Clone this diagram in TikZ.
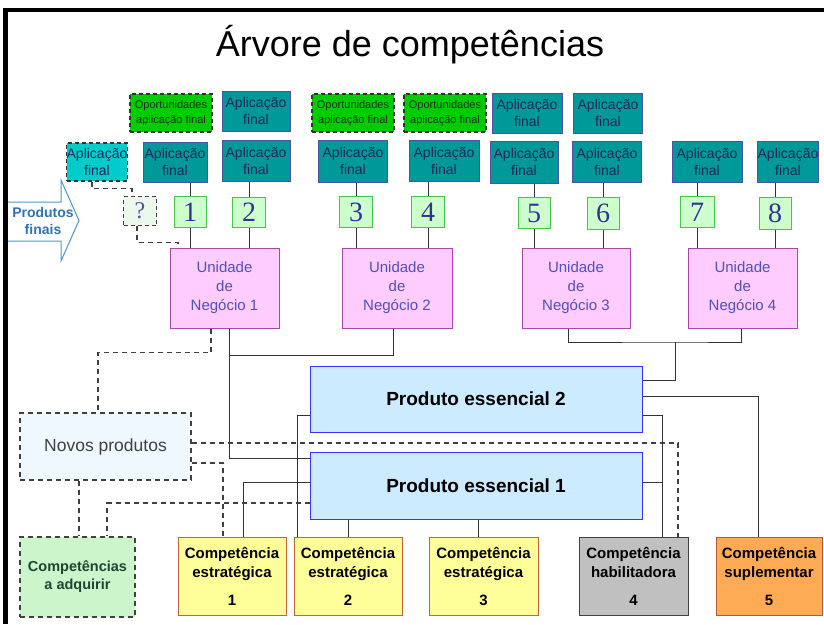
\documentclass[tikz,border=0pt]{standalone}
\usepackage{fontspec}
\setmainfont{Liberation Sans}
\newfontfamily\numfont{Liberation Serif}
\usetikzlibrary{positioning,calc}
\definecolor{afteal}{RGB}{0,153,153}
\definecolor{afedge}{RGB}{80,80,170}
\definecolor{aftext}{RGB}{30,40,90}
\definecolor{afcyan}{RGB}{0,204,204}
\definecolor{opgreen}{RGB}{0,204,0}
\definecolor{optext}{RGB}{20,50,20}
\definecolor{numfill}{RGB}{204,255,204}
\definecolor{numedge}{RGB}{70,200,70}
\definecolor{numtext}{RGB}{50,50,150}
\definecolor{qfill}{RGB}{236,248,236}
\definecolor{qtext}{RGB}{80,80,170}
\definecolor{unfill}{RGB}{255,204,255}
\definecolor{unedge}{RGB}{170,70,170}
\definecolor{untext}{RGB}{80,80,187}
\definecolor{pefill}{RGB}{204,235,255}
\definecolor{peedge}{RGB}{51,51,255}
\definecolor{cpyellow}{RGB}{255,255,153}
\definecolor{cpedge}{RGB}{200,100,50}
\definecolor{cpgray}{RGB}{192,192,192}
\definecolor{cporange}{RGB}{255,170,85}
\definecolor{novfill}{RGB}{239,247,255}
\definecolor{adqfill}{RGB}{204,245,204}
\definecolor{adqtext}{RGB}{30,70,50}
\definecolor{arrowedge}{RGB}{74,154,208}
\definecolor{arrowtext}{RGB}{46,116,181}
\begin{document}
\begin{tikzpicture}[x=1pt,y=-1pt,
  af/.style={draw=afedge,fill=afteal,line width=1pt,minimum width=68pt,minimum height=40pt,inner sep=0pt,align=center,text=aftext,font=\fontsize{14}{16.5}\selectfont},
  afdash/.style={af,draw=black!80,fill=afcyan,line width=1.2pt,dash pattern=on 4pt off 3pt},
  oport/.style={draw=black!80,fill=opgreen,line width=1.2pt,dash pattern=on 4pt off 3pt,minimum width=82pt,minimum height=38pt,inner sep=0pt,align=center,text=optext,font=\fontsize{11}{14.5}\selectfont},
  num/.style={draw=numedge,fill=numfill,line width=1pt,minimum width=32pt,minimum height=31pt,inner sep=0pt,text=numtext,font=\numfont\fontsize{28}{28}\selectfont},
  numq/.style={num,draw=black!75,fill=qfill,line width=1.2pt,dash pattern=on 4pt off 3pt,text=qtext},
  un/.style={draw=unedge,fill=unfill,line width=1pt,minimum width=109pt,minimum height=80pt,inner sep=0pt,align=center,text=untext,font=\fontsize{15}{19}\selectfont},
  pe/.style={draw=peedge,fill=pefill,line width=1pt,minimum width=332pt,minimum height=66pt,inner sep=0pt,font=\bfseries\fontsize{19}{22}\selectfont},
  comp/.style={draw=cpedge,fill=cpyellow,line width=1pt,minimum width=108pt,minimum height=78pt,inner sep=0pt,align=center,font=\bfseries\fontsize{15}{19}\selectfont},
  novos/.style={draw=black!75,fill=novfill,line width=1.2pt,dash pattern=on 5pt off 4pt,minimum width=171pt,minimum height=67pt,inner sep=0pt,text=black!75,font=\fontsize{17.5}{20}\selectfont},
  adq/.style={draw=black!75,fill=adqfill,line width=1.2pt,dash pattern=on 5pt off 4pt,minimum width=115pt,minimum height=80pt,inner sep=0pt,align=center,text=adqtext,font=\bfseries\fontsize{14.5}{18}\selectfont},
  ln/.style={draw=black!80,line width=0.9pt},
  dsh/.style={draw=black!75,line width=1.3pt,dash pattern=on 5pt off 4pt}]
  \useasboundingbox (0,0) rectangle (824,624);
  \fill[white] (0,0) rectangle (824,624);
  \node[font=\fontsize{36}{40}\selectfont,anchor=base] (title) at (410,56) {Árvore de competências};
  % arrow on the left
  \draw[draw=arrowedge,fill=white,line width=1pt] (8,202) -- (61,202) -- (61,180) -- (79,220.5) -- (61,261) -- (61,241) -- (8,241);
  \node[font=\bfseries\fontsize{14}{17.5}\selectfont,text=arrowtext,align=center] (pf) at (43,221) {Produtos\\finais};
  % top row
  \node[oport] (op1) at (171,113) {Oportunidades\\aplicação final};
  \node[af] (a1) at (256,111) {Aplicação\\final};
  \node[oport] (op2) at (353,113) {Oportunidades\\aplicação final};
  \node[oport] (op3) at (445,113) {Oportunidades\\aplicação final};
  \node[af,minimum width=70pt] (a2) at (527,113) {Aplicação\\final};
  \node[af,minimum width=69pt] (a3) at (608,113) {Aplicação\\final};
  % second row
  \node[afdash,minimum width=56pt,minimum height=38pt] (af0) at (97,162) {Aplicação\\final};
  \node[af,minimum width=64pt] (b1) at (175,162) {Aplicação\\final};
  \node[af,minimum height=41pt] (b2) at (256,161) {Aplicação\\final};
  \node[af,minimum width=69pt,minimum height=42pt] (b3) at (353,161) {Aplicação\\final};
  \node[af,minimum width=70pt,minimum height=41pt] (b4) at (444,161) {Aplicação\\final};
  \node[af,minimum height=42pt] (b5) at (524,162) {Aplicação\\final};
  \node[af,minimum width=69pt,minimum height=41pt] (b6) at (607,162) {Aplicação\\final};
  \node[af,minimum width=70pt,minimum height=41pt] (b7) at (707,162) {Aplicação\\final};
  \node[af,minimum width=58pt,minimum height=41pt] (b8) at (788,162) {Aplicação\\final};
  % numbers
  \node[numq,minimum width=33pt,minimum height=29pt,font=\numfont\fontsize{24}{24}\selectfont] (q) at (140,211) {?};
  \node[num] (n1) at (190,212) {1};
  \node[num,minimum width=33pt,minimum height=30pt] (n2) at (249,212) {2};
  \node[num,minimum width=33pt] (n3) at (356,212) {3};
  \node[num,minimum width=33pt] (n4) at (428,212) {4};
  \node[num] (n5) at (534,213) {5};
  \node[num,minimum height=32pt] (n6) at (603,213) {6};
  \node[num,minimum width=34pt] (n7) at (697,212) {7};
  \node[num,minimum height=32pt] (n8) at (775,213) {8};
  % business units
  \node[un] (un1) at (224.5,288) {Unidade\\de\\Negócio 1};
  \node[un,minimum width=110pt] (un2) at (397,288) {Unidade\\de\\Negócio 2};
  \node[un,minimum width=108pt] (un3) at (576,288) {Unidade\\de\\Negócio 3};
  \node[un] (un4) at (742.5,288) {Unidade\\de\\Negócio 4};
  % core products
  \node[pe] (pe2) at (476,399) {Produto essencial 2};
  \node[pe,minimum height=67pt] (pe1) at (476,485.5) {Produto essencial 1};
  \node[novos] (novos) at (105.5,446.5) {Novos produtos};
  % competences
  \node[adq] (adq) at (77.5,577) {Competências\\a adquirir};
  \node[comp] (c1) at (232,576) {Competência\\estratégica\\[9pt]1};
  \node[comp] (c2) at (348,576) {Competência\\estratégica\\[9pt]2};
  \node[comp,minimum width=109pt] (c3) at (483.5,576) {Competência\\estratégica\\[9pt]3};
  \node[comp,minimum width=109pt,fill=cpgray,draw=black!75] (c4) at (633.5,576) {Competência\\habilitadora\\[9pt]4};
  \node[comp,minimum width=106pt,fill=cporange,draw=cpedge!90!black] (c5) at (769,576) {Competência\\suplementar\\[9pt]5};
  % frame
  \fill[black] (3,8) rectangle (8,624);
  \fill[black] (3,8) rectangle (824,12);
  % applications to numbers to units
  \foreach \n/\b/\u in {n1/b1/un1,n2/b2/un1,n3/b3/un2,n4/b4/un2,n5/b5/un3,n6/b6/un3,n7/b7/un4,n8/b8/un4}{
    \draw[ln] (\n.north) -- (\n.north |- \b.south);
    \draw[ln] (\n.south) -- (\n.south |- \u.north);
  }
  % units to core products
  \draw[ln] ([xshift=4.5pt]un1.south) |- ([yshift=27.5pt]pe1.west);
  \draw[ln] ([xshift=-4pt]un2.south) |- ([xshift=4.5pt,yshift=-27pt]un1.south);
  \coordinate (j34) at (675,342);
  \draw[ln] ([xshift=-8pt]un3.south) |- (j34) -| ([xshift=-1.5pt]un4.south);
  \draw[ln] (j34) |- ([yshift=19pt]pe2.east);
  % core products to competences
  \draw[ln] ([yshift=3pt]pe2.east) -| ([xshift=-11pt]c5.north);
  \draw[ln] ([yshift=-16pt]pe2.east) -| ([xshift=28.5pt]c4.north);
  \draw[ln] ([yshift=3.5pt]pe1.east) -| ([xshift=28.5pt]c4.north);
  \draw[ln] ([yshift=-16pt]pe2.west) -| ([xshift=-51pt]c2.north);
  \draw[ln] (c2.north |- pe1.south) -- (c2.north);
  \draw[ln] ([xshift=2pt]pe1.south) -- ([xshift=2pt]pe1.south |- c3.north);
  \draw[ln] ([yshift=3.5pt]pe1.west) -| ([xshift=11pt]c1.north);
  % dashed links
  \draw[dsh] ([xshift=-5pt]af0.south) -- ++(0,7) -| ([xshift=-8pt]q.north);
  \draw[dsh] ([xshift=-3pt]q.south) -- ++(0,16.5) -| ([xshift=-46.5pt]un1.north);
  \draw[dsh] ([xshift=-13.5pt]un1.south) -- ++(0,24) -| ([xshift=-7.5pt]novos.north);
  \draw[dsh] ([yshift=3.5pt]novos.east) -| ([xshift=44.5pt]c4.north);
  \draw[dsh] ([yshift=-16.5pt]novos.east) -| ([xshift=-9pt]c1.north);
  \draw[dsh] ([xshift=-26.5pt]novos.south) -- ([xshift=-26.5pt]novos.south |- adq.north);
  \draw[dsh] ([yshift=-17.5pt]pe1.west) -| ([xshift=29.5pt]adq.north);
\end{tikzpicture}
\end{document}
